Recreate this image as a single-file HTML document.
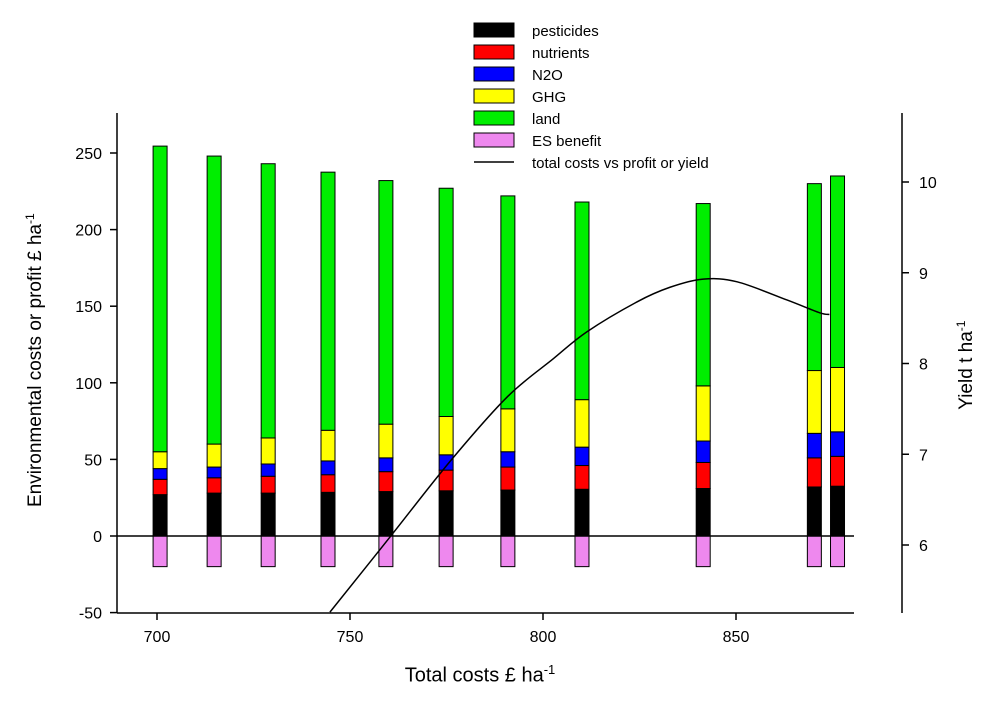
<!DOCTYPE html>
<html><head><meta charset="utf-8"><style>
html,body{margin:0;padding:0;background:#fff;}
svg{display:block;font-family:"Liberation Sans",Arial,sans-serif;}
</style></head><body>
<svg id="chart" width="1000" height="702" viewBox="0 0 1000 702"></svg>
<script>
const costs=[700.8,714.8,728.8,744.3,759.3,774.9,790.9,810.1,841.5,870.3,876.3];
const pesticides=[27,28,28,28.5,29,29.5,30,30.5,31,32,32.5];
const nutrients=[10,10,11,11.5,13,13.5,15,15.5,17,19,19.5];
const n2o=[7,7,8,9,9,10,10,12,14,16,16];
const ghg=[11,15,17,20,22,25,28,31,36,41,42];
const land=[199.5,188,179,168.5,159,149,139,129,119,122,125];
const esBenefit=[-20,-20,-20,-20,-20,-20,-20,-20,-20,-20,-20];
const lineX=[744.8,760.4,775.9,790.7,802.6,811.4,824.4,832.9,841.5,850.3,863.2,871.6,874.2];
const lineYield=[5.26,6.09,6.92,7.63,8.05,8.35,8.68,8.84,8.93,8.90,8.70,8.56,8.54];
const xTicks=[700,750,800,850];
const yTicks=[-50,0,50,100,150,200,250];
const y2Ticks=[6,7,8,9,10];

const NS="http://www.w3.org/2000/svg";
const svg=document.getElementById('chart');
const X=v=>157+(v-700)*3.86;
const Y=v=>536-v*1.532;
const Y2=v=>545-(v-6)*90.75;
function mk(tag,attrs,parent){const e=document.createElementNS(NS,tag);for(const k in attrs)e.setAttribute(k,attrs[k]);(parent||svg).appendChild(e);return e;}

const comps=[[pesticides,'#000000','pesticides'],[nutrients,'#ff0000','nutrients'],[n2o,'#0000ff','n2o'],[ghg,'#ffff00','ghg'],[land,'#00ee00','land']];
costs.forEach((c,i)=>{
  let base=0;
  comps.forEach(([arr,col,nm])=>{
    const top=base+arr[i];
    const r=mk('rect',{x:X(c)-7,y:Y(top),width:14,height:Y(base)-Y(top),fill:col,stroke:'#000','stroke-width':1});
    
    
    base=top;
  });
  const e=mk('rect',{x:X(c)-7,y:Y(0),width:14,height:Y(esBenefit[i])-Y(0),fill:'#ee88ee',stroke:'#000','stroke-width':1});
  
  
});
const zl=mk('line',{x1:117,x2:854,y1:Y(0),y2:Y(0),stroke:'#000','stroke-width':1.5});



const pts=lineX.map((x,i)=>[X(x),Y2(lineYield[i])]);
let d='M'+pts[0][0]+','+pts[0][1];
for(let i=0;i<pts.length-1;i++){
  const p0=pts[Math.max(0,i-1)],p1=pts[i],p2=pts[i+1],p3=pts[Math.min(pts.length-1,i+2)];
  const c1=[p1[0]+(p2[0]-p0[0])/6,p1[1]+(p2[1]-p0[1])/6];
  const c2=[p2[0]-(p3[0]-p1[0])/6,p2[1]-(p3[1]-p1[1])/6];
  d+=' C'+c1[0]+','+c1[1]+' '+c2[0]+','+c2[1]+' '+p2[0]+','+p2[1];
}
const pl=mk('path',{d:d,fill:'none',stroke:'#000','stroke-width':1.5});



const ax=mk('g',{stroke:'#000','stroke-width':1.5});


mk('line',{x1:117,x2:117,y1:113,y2:613},ax);
mk('line',{x1:117,x2:854,y1:613,y2:613},ax);
mk('line',{x1:902,x2:902,y1:113,y2:613},ax);
xTicks.forEach(t=>{mk('line',{x1:X(t),x2:X(t),y1:613,y2:620},ax);
  const tx=mk('text',{x:X(t),y:642,'text-anchor':'middle','font-size':16,fill:'#000',stroke:'none'});tx.textContent=t;
  });
yTicks.forEach(t=>{mk('line',{x1:110,x2:117,y1:Y(t),y2:Y(t)},ax);
  const tx=mk('text',{x:102,y:Y(t)+6,'text-anchor':'end','font-size':16,fill:'#000',stroke:'none'});tx.textContent=t;
  });
y2Ticks.forEach(t=>{mk('line',{x1:902,x2:909,y1:Y2(t),y2:Y2(t)},ax);
  const tx=mk('text',{x:919,y:Y2(t)+6,'font-size':16,fill:'#000',stroke:'none'});tx.textContent=t;
  });

const leg=[['#000000','pesticides','rect'],['#ff0000','nutrients','rect'],['#0000ff','N2O','rect'],['#ffff00','GHG','rect'],['#00ee00','land','rect'],['#ee88ee','ES benefit','rect'],['#000','total costs vs profit or yield','line']];
leg.forEach(([c,l,t],i)=>{
  const y=30+i*22;
  const g=mk('g',{});
  
  
  if(t==='rect')mk('rect',{x:474,y:y-7,width:40,height:14,fill:c,stroke:'#000','stroke-width':1},g);
  else mk('line',{x1:474,x2:514,y1:y,y2:y,stroke:'#000','stroke-width':1.5},g);
  const tx=mk('text',{x:532,y:y+6,'font-size':15,fill:'#000'},g);tx.textContent=l;
});
</script>
<div style="position:absolute;left:0;top:0;width:1000px;height:702px;pointer-events:none;font-family:'Liberation Sans',Arial,sans-serif;color:#000">
 <div style="position:absolute;left:330px;top:662px;width:300px;text-align:center;font-size:20px">Total costs £ ha<sup style="font-size:13px">-1</sup></div>
 <div style="position:absolute;left:35px;top:360px;width:400px;margin-left:-200px;margin-top:-12px;text-align:center;font-size:19px;transform:rotate(-90deg);white-space:nowrap">Environmental costs or profit £ ha<sup style="font-size:12px">-1</sup></div>
 <div style="position:absolute;left:966px;top:365px;width:200px;margin-left:-100px;margin-top:-12px;text-align:center;font-size:19px;transform:rotate(-90deg);white-space:nowrap">Yield t ha<sup style="font-size:12px">-1</sup></div>
</div>
</body></html>
